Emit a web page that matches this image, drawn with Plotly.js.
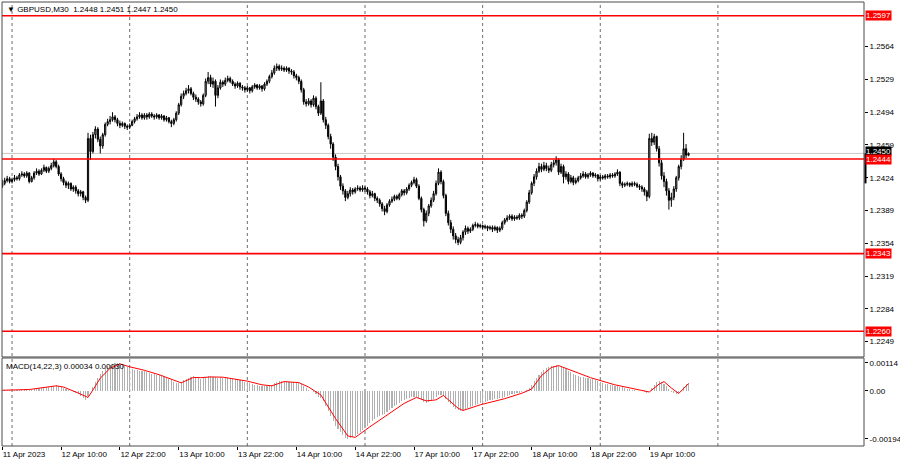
<!DOCTYPE html>
<html>
<head>
<meta charset="utf-8">
<script src="https://cdn.plot.ly/plotly-3.0.1.min.js"></script>
<style>
html,body{margin:0;padding:0;background:#fff;}
#chart{width:900px;height:460px;}
</style>
</head>
<body>
<div id="chart"></div>
<script>
// ---------- DATA ----------
const symbolName = "GBPUSD,M30";
const firstOpen = 1.2415;
const closes = [
1.2418,1.2421,1.2423,1.2420,1.2422,1.2424,1.2423,1.2427,1.2428,1.2426,
1.2429,1.2420,1.2424,1.2429,1.2431,1.2428,1.2432,1.2435,1.2431,1.2434,
1.2437,1.2441,1.2436,1.2428,1.2423,1.2419,1.2416,1.2418,1.2412,1.2414,
1.2410,1.2407,1.2409,1.2403,1.2400,1.2466,1.2452,1.2470,1.2476,1.2465,
1.2458,1.2470,1.2481,1.2484,1.2486,1.2489,1.2486,1.2482,1.2480,1.2482,
1.2479,1.2478,1.2480,1.2484,1.2487,1.2489,1.2491,1.2488,1.2491,1.2489,
1.2492,1.2490,1.2489,1.2491,1.2488,1.2490,1.2486,1.2488,1.2484,1.2482,
1.2486,1.2493,1.2502,1.2511,1.2514,1.2517,1.2519,1.2514,1.2510,1.2508,
1.2505,1.2503,1.2512,1.2527,1.2531,1.2524,1.2527,1.2512,1.2520,1.2526,
1.2524,1.2528,1.2530,1.2527,1.2524,1.2522,1.2525,1.2521,1.2520,1.2518,
1.2520,1.2517,1.2521,1.2523,1.2520,1.2522,1.2519,1.2524,1.2527,1.2532,
1.2536,1.2541,1.2543,1.2540,1.2541,1.2539,1.2541,1.2538,1.2537,1.2533,
1.2531,1.2527,1.2518,1.2505,1.2503,1.2506,1.2502,1.2509,1.2500,1.2493,
1.2506,1.2486,1.2480,1.2468,1.2460,1.2446,1.2436,1.2425,1.2415,1.2410,
1.2403,1.2407,1.2411,1.2409,1.2412,1.2413,1.2411,1.2413,1.2412,1.2409,
1.2405,1.2407,1.2402,1.2400,1.2396,1.2391,1.2388,1.2395,1.2399,1.2401,
1.2404,1.2402,1.2406,1.2410,1.2408,1.2412,1.2416,1.2419,1.2422,1.2415,
1.2402,1.2390,1.2378,1.2386,1.2394,1.2400,1.2407,1.2418,1.2430,1.2420,
1.2405,1.2386,1.2376,1.2369,1.2362,1.2358,1.2355,1.2360,1.2366,1.2370,
1.2367,1.2369,1.2373,1.2374,1.2372,1.2373,1.2371,1.2372,1.2370,1.2371,
1.2369,1.2371,1.2368,1.2370,1.2376,1.2379,1.2381,1.2383,1.2380,1.2382,
1.2381,1.2384,1.2383,1.2389,1.2398,1.2408,1.2418,1.2425,1.2431,1.2436,
1.2433,1.2437,1.2434,1.2432,1.2438,1.2440,1.2443,1.2430,1.2436,1.2425,
1.2428,1.2420,1.2424,1.2419,1.2421,1.2424,1.2426,1.2428,1.2425,1.2427,
1.2429,1.2426,1.2427,1.2423,1.2425,1.2424,1.2426,1.2425,1.2427,1.2426,
1.2428,1.2430,1.2418,1.2416,1.2417,1.2418,1.2416,1.2418,1.2417,1.2415,
1.2414,1.2412,1.2409,1.2404,1.2466,1.2462,1.2468,1.2455,1.2440,1.2426,
1.2420,1.2410,1.2400,1.2403,1.2412,1.2424,1.2436,1.2444,1.2455,1.2448,
1.2450];
const highs = [
1.2422,1.2424,1.2426,1.2425,1.2424,1.2427,1.2426,1.2429,1.2431,1.2430,
1.2431,1.2430,1.2426,1.2431,1.2434,1.2433,1.2434,1.2438,1.2436,1.2436,
1.2440,1.2444,1.2443,1.2438,1.2430,1.2425,1.2421,1.2420,1.2419,1.2416,
1.2416,1.2412,1.2411,1.2410,1.2405,1.2472,1.2470,1.2473,1.2479,1.2478,
1.2468,1.2472,1.2483,1.2487,1.2490,1.2494,1.2491,1.2488,1.2485,1.2484,
1.2483,1.2481,1.2482,1.2486,1.2489,1.2492,1.2494,1.2493,1.2493,1.2493,
1.2494,1.2494,1.2492,1.2493,1.2492,1.2492,1.2491,1.2490,1.2489,1.2486,
1.2488,1.2495,1.2504,1.2514,1.2517,1.2520,1.2523,1.2521,1.2516,1.2513,
1.2510,1.2507,1.2514,1.2530,1.2537,1.2534,1.2531,1.2529,1.2523,1.2529,
1.2528,1.2531,1.2533,1.2532,1.2529,1.2526,1.2527,1.2526,1.2523,1.2522,
1.2522,1.2521,1.2523,1.2525,1.2524,1.2524,1.2523,1.2526,1.2529,1.2534,
1.2539,1.2544,1.2546,1.2545,1.2544,1.2543,1.2543,1.2542,1.2540,1.2539,
1.2535,1.2533,1.2529,1.2520,1.2508,1.2509,1.2508,1.2512,1.2511,1.2502,
1.2526,1.2508,1.2489,1.2482,1.2471,1.2462,1.2449,1.2439,1.2427,1.2418,
1.2412,1.2410,1.2414,1.2413,1.2414,1.2416,1.2415,1.2416,1.2415,1.2414,
1.2411,1.2410,1.2408,1.2404,1.2402,1.2398,1.2394,1.2397,1.2401,1.2404,
1.2406,1.2406,1.2408,1.2412,1.2412,1.2414,1.2418,1.2421,1.2425,1.2424,
1.2417,1.2404,1.2392,1.2389,1.2396,1.2403,1.2410,1.2421,1.2434,1.2432,
1.2422,1.2407,1.2389,1.2379,1.2372,1.2365,1.2361,1.2363,1.2368,1.2373,
1.2372,1.2371,1.2375,1.2377,1.2376,1.2375,1.2374,1.2374,1.2373,1.2373,
1.2373,1.2373,1.2372,1.2372,1.2378,1.2381,1.2384,1.2385,1.2385,1.2384,
1.2384,1.2386,1.2386,1.2391,1.2400,1.2411,1.2420,1.2428,1.2434,1.2440,
1.2439,1.2441,1.2440,1.2437,1.2441,1.2443,1.2447,1.2445,1.2439,1.2438,
1.2431,1.2430,1.2427,1.2426,1.2424,1.2426,1.2429,1.2431,1.2430,1.2429,
1.2431,1.2430,1.2429,1.2428,1.2427,1.2427,1.2428,1.2428,1.2429,1.2429,
1.2430,1.2433,1.2431,1.2420,1.2419,1.2420,1.2419,1.2420,1.2420,1.2419,
1.2417,1.2416,1.2414,1.2411,1.2471,1.2472,1.2471,1.2469,1.2458,1.2443,
1.2430,1.2423,1.2413,1.2408,1.2415,1.2426,1.2438,1.2448,1.2472,1.2460,
1.2451];
const lows = [
1.2413,1.2416,1.2419,1.2418,1.2418,1.2420,1.2421,1.2421,1.2425,1.2424,
1.2424,1.2418,1.2419,1.2422,1.2427,1.2426,1.2427,1.2430,1.2429,1.2429,
1.2432,1.2435,1.2434,1.2426,1.2420,1.2416,1.2413,1.2412,1.2410,1.2409,
1.2407,1.2404,1.2404,1.2400,1.2397,1.2398,1.2443,1.2450,1.2466,1.2462,
1.2450,1.2455,1.2468,1.2479,1.2481,1.2484,1.2483,1.2479,1.2477,1.2478,
1.2476,1.2475,1.2476,1.2479,1.2482,1.2485,1.2487,1.2486,1.2486,1.2486,
1.2487,1.2488,1.2486,1.2487,1.2486,1.2486,1.2484,1.2484,1.2482,1.2478,
1.2480,1.2484,1.2491,1.2500,1.2508,1.2512,1.2514,1.2512,1.2507,1.2505,
1.2502,1.2500,1.2501,1.2510,1.2524,1.2521,1.2520,1.2500,1.2509,1.2518,
1.2521,1.2522,1.2526,1.2525,1.2522,1.2519,1.2520,1.2518,1.2517,1.2515,
1.2516,1.2514,1.2515,1.2519,1.2518,1.2518,1.2516,1.2517,1.2522,1.2525,
1.2530,1.2534,1.2538,1.2538,1.2538,1.2537,1.2537,1.2535,1.2534,1.2530,
1.2528,1.2524,1.2515,1.2502,1.2500,1.2501,1.2499,1.2500,1.2497,1.2490,
1.2491,1.2483,1.2476,1.2465,1.2455,1.2442,1.2432,1.2421,1.2411,1.2406,
1.2399,1.2401,1.2404,1.2406,1.2407,1.2410,1.2409,1.2409,1.2409,1.2406,
1.2402,1.2403,1.2399,1.2397,1.2393,1.2388,1.2384,1.2386,1.2393,1.2397,
1.2399,1.2400,1.2400,1.2404,1.2405,1.2406,1.2410,1.2414,1.2417,1.2413,
1.2400,1.2387,1.2372,1.2376,1.2383,1.2392,1.2398,1.2405,1.2416,1.2417,
1.2402,1.2383,1.2373,1.2365,1.2358,1.2354,1.2352,1.2353,1.2357,1.2363,
1.2364,1.2365,1.2367,1.2371,1.2370,1.2370,1.2369,1.2369,1.2367,1.2368,
1.2366,1.2367,1.2365,1.2366,1.2368,1.2374,1.2377,1.2379,1.2378,1.2378,
1.2379,1.2379,1.2380,1.2381,1.2387,1.2396,1.2406,1.2415,1.2422,1.2429,
1.2430,1.2431,1.2431,1.2429,1.2430,1.2435,1.2437,1.2427,1.2428,1.2418,
1.2422,1.2417,1.2418,1.2416,1.2417,1.2419,1.2422,1.2424,1.2423,1.2423,
1.2425,1.2424,1.2424,1.2420,1.2421,1.2422,1.2422,1.2423,1.2423,1.2424,
1.2424,1.2426,1.2415,1.2413,1.2414,1.2415,1.2414,1.2414,1.2415,1.2413,
1.2411,1.2409,1.2405,1.2399,1.2402,1.2458,1.2459,1.2452,1.2436,1.2422,
1.2414,1.2405,1.2390,1.2393,1.2400,1.2409,1.2421,1.2433,1.2442,1.2445,
1.2447];
// MACD main (histogram), in units of 0.00001
const macdMain = [
3,4,4,3,4,5,5,6,7,7,8,6,
6,8,10,12,12,14,15,17,19,22,24,
22,18,13,8,4,1,-3,-8,-14,-20,-27,-36,
-20,-2,15,35,52,70,82,92,100,106,110,112,114,
112,106,100,96,92,88,86,84,82,80,79,76,73,
70,68,66,63,60,56,52,48,43,38,33,31,
38,44,50,54,57,59,57,54,50,52,57,60,59,58,55,54,55,
54,53,52,51,50,48,46,43,40,37,35,32,29,26,24,22,21,20,20,22,26,32,38,
40,40,39,38,37,36,35,34,32,28,20,12,4,-2,-6,-14,-24,
-30,-42,-60,-80,-100,-120,-140,-155,-168,-180,-190,-194,-192,-188,-182,-176,
-168,-158,-148,-140,-130,-120,-112,-106,-100,-96,-92,-86,-78,-70,-62,-55,-48,-42,-36,-32,-28,-26,-24,-26,-30,
-36,-44,-48,-46,-40,-32,-24,-18,-16,-22,-32,-44,-54,-64,-72,-78,-80,-78,-74,-70,
-66,-62,-58,-54,-50,-47,-44,-41,-38,-36,-34,-32,-30,-27,-24,-20,-17,-14,-11,-9,-7,-5,
-2,4,14,26,40,54,66,78,86,92,96,100,102,104,102,98,94,88,
82,76,70,66,62,58,56,54,52,50,48,44,40,36,33,30,27,25,23,21,19,18,16,13,10,8,6,4,2,0,-2,-5,-8,
2,14,26,36,40,38,30,20,8,-4,-10,-12,-8,4,18,28,34];
// MACD signal line vertices (bar index, value in 0.00001)
const signalBars = [0,11,22,25,30,35,37,40,44,48,52,58,64,70,73,78,81,85,90,100,106,110,115,121,125,130,136,141,144,150,158,164,169,173,177,180,186,188,195,205,212,216,220,224,227,232,240,250,262,264,268,270,273,276,280];
const signalVals = [3,6,21,16,-4,-26,4,52,92,110,98,84,66,46,33,55,54,57,56,40,25,21,38,34,16,-16,-112,-182,-188,-145,-90,-50,-26,-40,-36,-18,-70,-79,-56,-31,-9,8,62,95,103,84,54,25,-1,-4,28,38,12,-10,30];
const macdMainNow = "0.00034", macdSignalNow = "0.00030";
const macdName = "MACD(14,22,3)";
// Horizontal levels (red) and price-axis ticks
const levels = [1.2597, 1.2444, 1.2343, 1.2260];
const priceTicks = [1.2249,1.2284,1.2319,1.2354,1.2389,1.2424,1.2459,1.2494,1.2529,1.2564];
const macdTicks = [-0.00194, 0, 0.00114];
const macdTickText = ["-0.00194","0.00","0.00114"];
// time axis
const timeTickBars = [0,24,48,72,96,120,144,168,192,216,240,264];
const timeTickLabels = ["11 Apr 2023","12 Apr 10:00","12 Apr 22:00","13 Apr 10:00","13 Apr 22:00","14 Apr 10:00","14 Apr 22:00","17 Apr 10:00","17 Apr 22:00","18 Apr 10:00","18 Apr 22:00","19 Apr 10:00"];
const dayGridBars = [4,52,100,148,196,244,292];
const markerLow = 1.2418; // lower end of the black mark on the price scale

// ---------- BUILD ----------
const n = closes.length;
const idx = closes.map((_, i) => i);
const opens = closes.map((c, i) => i === 0 ? firstOpen : closes[i - 1]);
const macdY = macdMain.map(v => v * 1e-5);
const sigY = signalVals.map(v => v * 1e-5);
const last = n - 1;
const bid = closes[last];
const f4 = v => v.toFixed(4);

const FONT = "Liberation Sans, Arial, sans-serif";

const traces = [
  {
    type: "candlestick", x: idx, open: opens, high: highs, low: lows, close: closes,
    xaxis: "x", yaxis: "y",
    increasing: {line: {color: "#000000", width: 1}, fillcolor: "#bdbdbd"},
    decreasing: {line: {color: "#000000", width: 1}, fillcolor: "#000000"},
    whiskerwidth: 0, hoverinfo: "skip", showlegend: false
  },
  {
    type: "bar", x: idx.slice(0, macdY.length), y: macdY, xaxis: "x", yaxis: "y2",
    marker: {color: "#b0b0b0", line: {width: 0}}, width: 0.45,
    hoverinfo: "skip", showlegend: false
  },
  {
    type: "scatter", mode: "lines", x: signalBars, y: sigY, xaxis: "x", yaxis: "y2",
    line: {color: "#ff0000", width: 1}, hoverinfo: "skip", showlegend: false
  }
];

const mainDomain = [0.2005, 1];
const macdDomain = [0, 0.1982];

const shapes = [];
dayGridBars.forEach(b => {
  shapes.push({type: "line", xref: "x", yref: "paper", x0: b, x1: b, y0: 0, y1: 1,
    line: {color: "#6e6e6e", width: 1, dash: "3px,3px"}, layer: "below"});
});
shapes.push({type: "line", xref: "paper", yref: "y", x0: 0, x1: 1, y0: bid, y1: bid,
  line: {color: "#c8c8c8", width: 1}, layer: "below"});
levels.forEach(l => {
  shapes.push({type: "line", xref: "paper", yref: "y", x0: 0, x1: 1, y0: l, y1: l,
    line: {color: "#ff0000", width: 1.6}});
});
shapes.push({type: "rect", xref: "paper", yref: "paper", x0: 0, x1: 1, y0: mainDomain[0], y1: 1,
  line: {color: "#4a4a4a", width: 1}});
shapes.push({type: "rect", xref: "paper", yref: "paper", x0: 0, x1: 1, y0: 0, y1: macdDomain[1],
  line: {color: "#4a4a4a", width: 1}});
// black mark on the price scale just right of the frame
shapes.push({type: "line", xref: "paper", xsizemode: "pixel", xanchor: 1, x0: 1.5, x1: 1.5,
  yref: "y", y0: bid, y1: markerLow, line: {color: "#000000", width: 2}});

const annotations = [];
annotations.push({xref: "paper", yref: "y", x: 1, y: bid, xanchor: "left", yanchor: "bottom",
  xshift: 1, yshift: -3, text: f4(bid), showarrow: false, bgcolor: "#000000", borderpad: 0,
  height: 8, font: {family: FONT, size: 8, color: "#ffffff"}});
levels.forEach(l => {
  annotations.push({xref: "paper", yref: "y", x: 1, y: l, xanchor: "left", yanchor: "middle",
    xshift: 1, text: f4(l), showarrow: false, bgcolor: "#ff0000", borderpad: 0, height: 9,
    font: {family: FONT, size: 8, color: "#ffffff"}});
});
annotations.push({xref: "paper", yref: "paper", x: 0, y: 1, xanchor: "left", yanchor: "top",
  xshift: 3, yshift: -1, showarrow: false,
  text: "\u25BC " + symbolName + "  " + [opens[last], highs[last], lows[last], closes[last]].map(f4).join(" "),
  font: {family: FONT, size: 8, color: "#000000"}});
annotations.push({xref: "paper", yref: "paper", x: 0, y: macdDomain[1], xanchor: "left", yanchor: "top",
  xshift: 2, yshift: -2, showarrow: false,
  text: macdName + " " + macdMainNow + " " + macdSignalNow,
  font: {family: FONT, size: 8, color: "#000000"}});

const layout = {
  width: 900, height: 460,
  margin: {l: 2, r: 36, t: 2, b: 14, pad: 0},
  paper_bgcolor: "#ffffff", plot_bgcolor: "#ffffff",
  showlegend: false,
  xaxis: {
    range: [-0.1, 351.6], anchor: "y2", showgrid: false, zeroline: false,
    tickmode: "array", tickvals: timeTickBars, ticktext: timeTickLabels,
    ticks: "outside", ticklen: 3, tickcolor: "#000", showline: false,
    ticklabelposition: "outside right",
    tickfont: {family: FONT, size: 8, color: "#000"},
    rangeslider: {visible: false}, fixedrange: true
  },
  yaxis: {
    domain: mainDomain, range: [1.22326, 1.26117], side: "right", anchor: "x",
    showgrid: false, zeroline: false, tickmode: "array", tickvals: priceTicks,
    ticktext: priceTicks.map(f4), ticks: "outside", ticklen: 3, tickcolor: "#000",
    tickfont: {family: FONT, size: 8, color: "#000"}, fixedrange: true
  },
  yaxis2: {
    domain: macdDomain, range: [-0.002228, 0.001337], side: "right", anchor: "x",
    showgrid: false, zeroline: false, tickmode: "array", tickvals: macdTicks,
    ticktext: macdTickText, ticks: "outside", ticklen: 3, tickcolor: "#000",
    tickfont: {family: FONT, size: 8, color: "#000"}, fixedrange: true
  },
  bargap: 0,
  shapes: shapes,
  annotations: annotations
};

Plotly.newPlot("chart", traces, layout, {staticPlot: true, displayModeBar: false});
</script>
</body>
</html>
